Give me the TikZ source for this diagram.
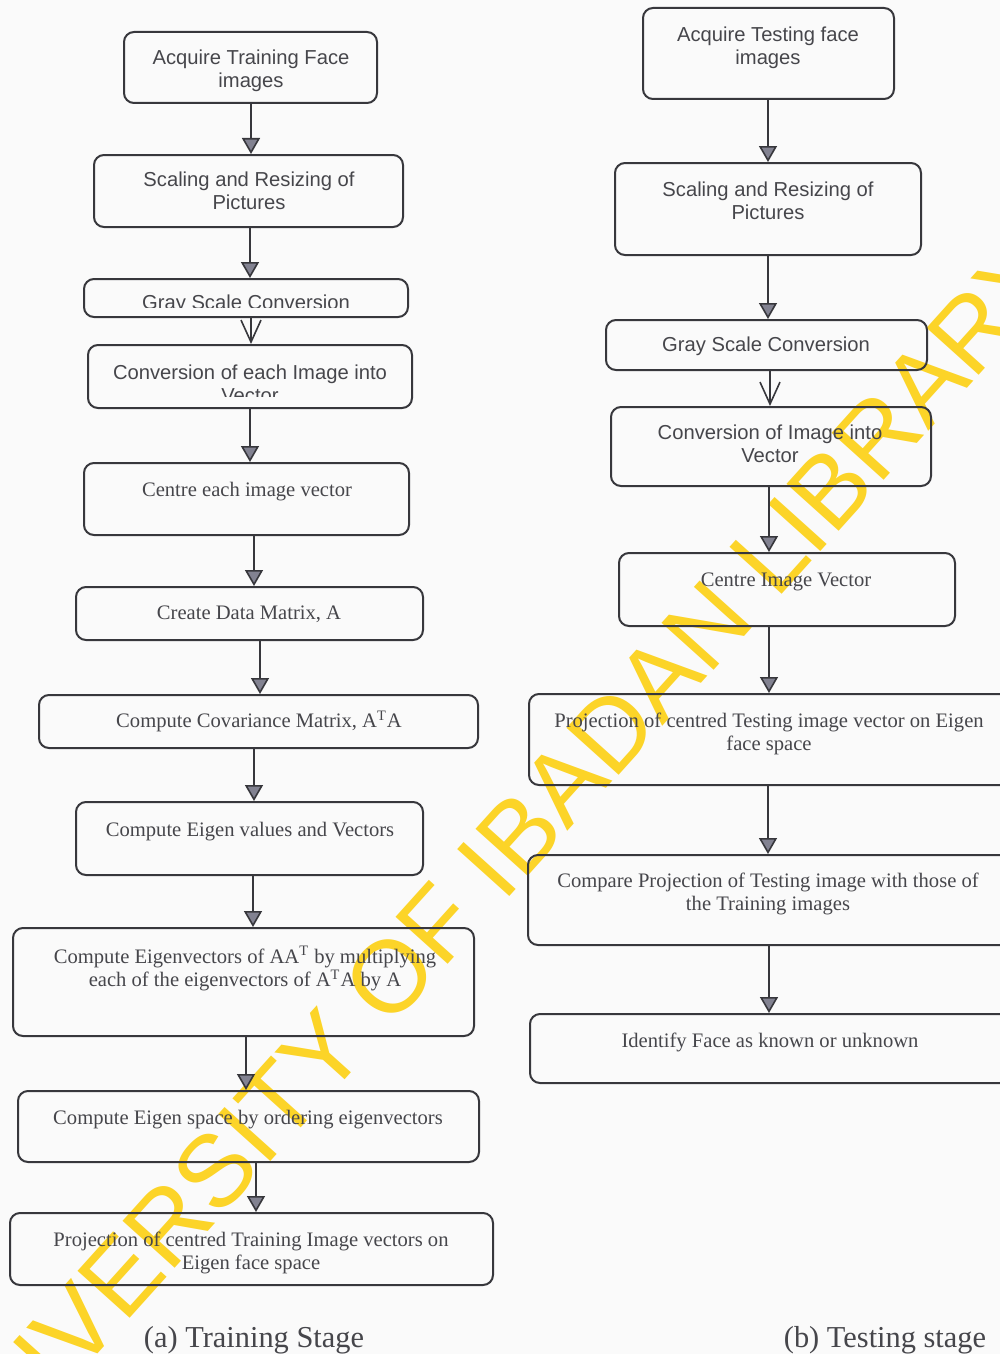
\documentclass[tikz,border=0pt]{standalone}
\usepackage{fontspec}
\setmainfont{Liberation Serif}
\newfontfamily\sansf{Liberation Sans}
\usetikzlibrary{arrows.meta,fit}
\definecolor{wm}{RGB}{252,212,40}
\definecolor{ln}{RGB}{55,55,60}
\definecolor{tx}{RGB}{70,70,75}
\definecolor{tipfill}{RGB}{130,130,145}
\definecolor{bg}{RGB}{250,250,250}
\begin{document}
\begin{tikzpicture}[x=0.5pt,y=-0.5pt,
  box/.style={draw=ln, line width=1pt, rounded corners=5pt, inner sep=0pt},
  stx/.style={font=\sansf\fontsize{10.1}{11.5}\selectfont, text=tx, align=center, inner sep=0pt},
  srx/.style={font=\fontsize{10.3}{11.7}\selectfont, text=tx, align=center, inner sep=0pt, yshift=-1.1pt},
  captxt/.style={font=\fontsize{15.2}{18}\selectfont, text=tx, inner sep=0pt, yshift=-1.4pt},
  arr/.style={draw=ln, line width=0.8pt, -{Triangle[length=8pt,width=9pt,fill=tipfill]}},
  varr/.style={draw=ln, line width=0.8pt, -{Straight Barb[length=11pt,width=10pt]}},
]
\useasboundingbox (0,0) rectangle (1000,1354);
\clip (0,0) rectangle (1000,1354);
\fill[bg] (0,0) rectangle (1000,1354);

% watermark
\node[rotate=48, text=wm, font=\sansf\fontsize{51}{51}\selectfont, inner sep=0pt] (wmark) at (488,868) {UNIVERSITY OF IBADAN LIBRARY};

% ---------- left column (training) ----------
\node[box, fit={(124,32)(377,103)}] (L1) {};
\node[stx] (L1t) at (251,71) {Acquire Training Face\\images};
\node[box, fit={(94,155)(403,227)}] (L2) {};
\node[stx] (L2t) at (249,190.5) {Scaling and Resizing of\\Pictures};
\node[box, fit={(84,279)(408,317)}] (L3) {};
\begin{scope}
\clip (84,279) rectangle (408,307);
\node[stx] (L3t) at (246,304) {Gray Scale Conversion};
\end{scope}
\node[box, fit={(88,345)(412,408)}] (L4) {};
\begin{scope}
\clip (88,345) rectangle (412,396);
\node[stx] (L4t) at (250,384) {Conversion of each Image into\\Vector};
\end{scope}
\node[box, fit={(84,463)(409,535)}] (L5) {};
\node[srx] (L5t) at (247,489) {Centre each image vector};
\node[box, fit={(76,587)(423,640)}] (L6) {};
\node[srx] (L6t) at (249,612) {Create Data Matrix, A};
\node[box, fit={(39,695)(478,748)}] (L7) {};
\node[srx] (L7t) at (259,719) {Compute Covariance Matrix, A\textsuperscript{T}A};
\node[box, fit={(76,802)(423,875)}] (L8) {};
\node[srx] (L8t) at (250,829) {Compute Eigen values and Vectors};
\node[box, fit={(13,928)(474,1036)}] (L9) {};
\node[srx] (L9t) at (245,966.5) {Compute Eigenvectors of AA\textsuperscript{T} by multiplying\\each of the eigenvectors of A\textsuperscript{T}A by A};
\node[box, fit={(18,1091)(479,1162)}] (L10) {};
\node[srx] (L10t) at (248,1117) {Compute Eigen space by ordering eigenvectors};
\node[box, fit={(10,1213)(493,1285)}] (L11) {};
\node[srx] (L11t) at (251,1250.5) {Projection of centred Training Image vectors on\\Eigen face space};
\node[captxt] (capa) at (254,1337) {(a) Training Stage};

\draw[arr]  (251,0 |- L1.south) -- (251,0 |- L2.north);
\draw[arr]  (250,0 |- L2.south) -- (250,0 |- L3.north);
\draw[varr] (251,0 |- L3.south) -- (251,0 |- L4.north);
\draw[arr]  (250,0 |- L4.south) -- (250,0 |- L5.north);
\draw[arr]  (254,0 |- L5.south) -- (254,0 |- L6.north);
\draw[arr]  (260,0 |- L6.south) -- (260,0 |- L7.north);
\draw[arr]  (254,0 |- L7.south) -- (254,0 |- L8.north);
\draw[arr]  (253,0 |- L8.south) -- (253,0 |- L9.north);
\draw[arr]  (246,0 |- L9.south) -- (246,0 |- L10.north);
\draw[arr]  (256,0 |- L10.south) -- (256,0 |- L11.north);

% ---------- right column (testing) ----------
\node[box, fit={(643,8)(894,99)}] (R1) {};
\node[stx] (R1t) at (768,47.5) {Acquire Testing face\\images};
\node[box, fit={(615,163)(921,255)}] (R2) {};
\node[stx] (R2t) at (768,200.5) {Scaling and Resizing of\\Pictures};
\node[box, fit={(606,320)(927,370)}] (R3) {};
\node[stx] (R3t) at (766,346) {Gray Scale Conversion};
\node[box, fit={(611,407)(931,486)}] (R4) {};
\node[stx] (R4t) at (770,443.5) {Conversion of Image into\\Vector};
\node[box, fit={(619,553)(955,626)}] (R5) {};
\node[srx] (R5t) at (786,580) {Centre Image Vector};
\node[box, fit={(529,694)(1010,785)}] (R6) {};
\node[srx] (R6t) at (769,732) {Projection of centred Testing image vector on Eigen\\face space};
\node[box, fit={(528,855)(1010,945)}] (R7) {};
\node[srx] (R7t) at (768,892) {Compare Projection of Testing image with those of\\the Training images};
\node[box, fit={(530,1014)(1010,1083)}] (R8) {};
\node[srx] (R8t) at (770,1040) {Identify Face as known or unknown};
\node[captxt] (capb) at (885,1337) {(b) Testing stage};

\draw[arr]  (768,0 |- R1.south) -- (768,0 |- R2.north);
\draw[arr]  (768,0 |- R2.south) -- (768,0 |- R3.north);
\draw[varr] (770,0 |- R3.south) -- (770,0 |- R4.north);
\draw[arr]  (769,0 |- R4.south) -- (769,0 |- R5.north);
\draw[arr]  (769,0 |- R5.south) -- (769,0 |- R6.north);
\draw[arr]  (768,0 |- R6.south) -- (768,0 |- R7.north);
\draw[arr]  (769,0 |- R7.south) -- (769,0 |- R8.north);
\end{tikzpicture}
\end{document}
